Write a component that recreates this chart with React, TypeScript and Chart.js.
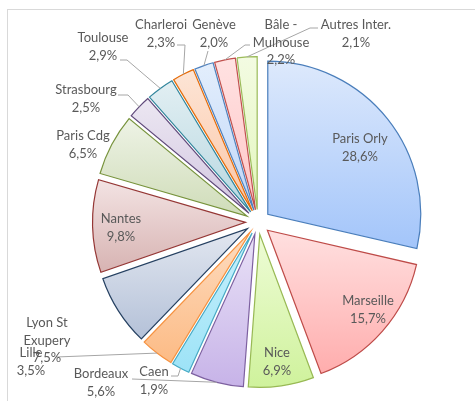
import React, { useEffect, useRef } from "react";
import { Chart, registerables } from "chart.js";

Chart.register(...registerables);

// ---- data ----
const categories = [
  "Paris Orly",
  "Marseille",
  "Nice",
  "Bordeaux",
  "Caen",
  "Lille",
  "Lyon St Exupery",
  "Nantes",
  "Paris Cdg",
  "Strasbourg",
  "Toulouse",
  "Charleroi",
  "Genève",
  "Bâle - Mulhouse",
  "Autres Inter.",
];
const shares = [28.6, 15.7, 6.9, 5.6, 1.9, 3.5, 7.5, 9.8, 6.5, 2.5, 2.9, 2.3, 2.0, 2.2, 2.1];

// ---- styles ----
const topColors = [
  "#dde9fc", "#ffe0e0", "#eefcd6", "#e9e2f7", "#c8f0fc", "#fedcc0", "#e2e7f0", "#f3e3e3",
  "#eef3e6", "#ece7f2", "#e2eff3", "#fde5d6", "#e3eefc", "#ffe2e2", "#f3fbe2",
];
const bottomColors = [
  "#a3c5fa", "#ffadad", "#cff29c", "#c7b3e8", "#9de3f7", "#fcbb85", "#b4c1d8", "#d7b3b2",
  "#cfdcb8", "#d2c6e0", "#b7d7e0", "#fbc6a6", "#c0d7f8", "#ffc6c6", "#e3f6bd",
];
const borderColors = [
  "#4a7ebb", "#be4b48", "#98b954", "#7d60a0", "#46aac5", "#f69240", "#254061", "#953735",
  "#77933c", "#604a7b", "#31859c", "#e46c0a", "#4f81bd", "#c0504d", "#9bbb59",
];

const EXPLODE = 12.5;
const RADIUS = 153;
const FONT = "13px Lato, 'Noto Sans', sans-serif";
const TEXT_COLOR = "#595959";
const LINE_COLOR = "#a6a6a6";
const LINE_H = 17.5;

// label placement (text centre of first line), optional wrap, and leader-line start points
type LabelCfg = { x: number; y: number; wrap?: number; leader?: number[][] };
const labelLayout: LabelCfg[] = [
  { x: 360, y: 139 },
  { x: 368, y: 301 },
  { x: 277, y: 353 },
  { x: 101, y: 374, leader: [[132, 379]] },
  { x: 154, y: 372, leader: [[171, 376], [178, 376]] },
  { x: 31, y: 353, leader: [[56, 357]] },
  { x: 47, y: 323, wrap: 55 },
  { x: 121, y: 219 },
  { x: 83, y: 136 },
  { x: 86, y: 90, leader: [[118, 95], [128, 95]] },
  { x: 103, y: 38, leader: [[120, 60], [127, 60]] },
  { x: 161, y: 25, leader: [[177, 45], [185, 45]] },
  { x: 214, y: 25, leader: [[208, 51]] },
  { x: 281, y: 25, wrap: 60, leader: [[250, 45], [245, 45]] },
  { x: 356, y: 25, leader: [[318, 28], [310, 28]] },
];

function wrapText(ctx: CanvasRenderingContext2D, text: string, maxW?: number): string[] {
  if (!maxW) return [text];
  const words = text.split(" ");
  const lines: string[] = [];
  let cur = "";
  for (const w of words) {
    const test = cur ? cur + " " + w : w;
    if (cur && ctx.measureText(test).width > maxW) {
      lines.push(cur);
      cur = w;
    } else cur = test;
  }
  if (cur) lines.push(cur);
  return lines;
}

const explodedPie = {
  id: "explodedPie",
  beforeDatasetsDraw(chart: any) {
    const ctx: CanvasRenderingContext2D = chart.ctx;
    const meta = chart.getDatasetMeta(0);
    meta.data.forEach((arc: any, i: number) => {
      const { x, y, startAngle, endAngle, outerRadius } = arc;
      let minY = y, maxY = y;
      for (let k = 0; k <= 32; k++) {
        const a = startAngle + ((endAngle - startAngle) * k) / 32;
        const py = y + Math.sin(a) * outerRadius;
        minY = Math.min(minY, py);
        maxY = Math.max(maxY, py);
      }
      const g = ctx.createLinearGradient(0, minY, 0, maxY);
      g.addColorStop(0, topColors[i]);
      g.addColorStop(1, bottomColors[i]);
      arc.options.backgroundColor = g;
      const mid = (startAngle + endAngle) / 2;
      ctx.save();
      ctx.translate(Math.cos(mid) * EXPLODE, Math.sin(mid) * EXPLODE);
      arc.draw(ctx);
      ctx.restore();
    });
    return false;
  },
  afterDraw(chart: any) {
    const ctx: CanvasRenderingContext2D = chart.ctx;
    const meta = chart.getDatasetMeta(0);
    ctx.save();
    ctx.font = FONT;
    // leader lines
    meta.data.forEach((arc: any, i: number) => {
      const cfg = labelLayout[i];
      if (!cfg.leader) return;
      const { x, y, startAngle, endAngle, outerRadius } = arc;
      const mid = (startAngle + endAngle) / 2;
      const px = x + Math.cos(mid) * (outerRadius + EXPLODE);
      const py = y + Math.sin(mid) * (outerRadius + EXPLODE);
      ctx.beginPath();
      ctx.strokeStyle = LINE_COLOR;
      ctx.lineWidth = 1;
      cfg.leader.forEach((p, k) => (k === 0 ? ctx.moveTo(p[0], p[1]) : ctx.lineTo(p[0], p[1])));
      ctx.lineTo(px, py);
      ctx.stroke();
    });
    // texts
    ctx.fillStyle = TEXT_COLOR;
    ctx.textAlign = "center";
    ctx.textBaseline = "middle";
    shares.forEach((v, i) => {
      const cfg = labelLayout[i];
      const lines = wrapText(ctx, categories[i], cfg.wrap);
      lines.push(v.toFixed(1).replace(".", ",") + "%");
      lines.forEach((t, k) => ctx.fillText(t, cfg.x, cfg.y + k * LINE_H));
    });
    ctx.restore();
  },
};

export default function App() {
  const ref = useRef<HTMLCanvasElement | null>(null);
  useEffect(() => {
    if (!ref.current) return;
    const chart = new Chart(ref.current, {
      type: "pie",
      data: {
        labels: categories,
        datasets: [
          {
            data: shares,
            backgroundColor: topColors,
            borderColor: borderColors,
            borderWidth: 1.2,
            borderJoinStyle: "miter",
          } as any,
        ],
      },
      options: {
        responsive: false,
        animation: false,
        events: [],
        radius: RADIUS,
        layout: { padding: { left: 41, top: 43, right: 0, bottom: 0 } },
        plugins: { legend: { display: false }, tooltip: { enabled: false } },
      } as any,
      plugins: [explodedPie],
    });
    return () => chart.destroy();
  }, []);
  return (
    <div style={{ position: "absolute", left: 0, top: 0, width: 475, height: 401, overflow: "hidden", background: "#fff" }}>
      <div
        style={{
          position: "absolute",
          left: 7,
          top: 9,
          width: 520,
          height: 520,
          border: "1px solid #d9d9d9",
          boxSizing: "border-box",
        }}
      />
      <canvas ref={ref} width={475} height={401} style={{ position: "absolute", left: 0, top: 0, width: 475, height: 401 }} />
    </div>
  );
}
